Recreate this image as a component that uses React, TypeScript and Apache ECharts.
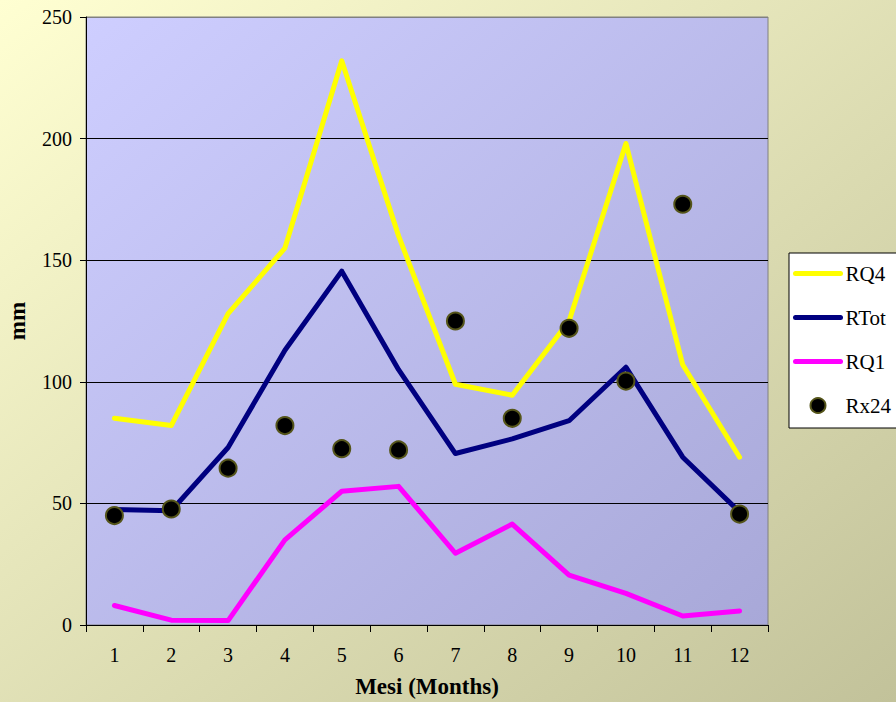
import React, { useEffect, useRef } from "react";
import * as echarts from "echarts";

const months = ["1", "2", "3", "4", "5", "6", "7", "8", "9", "10", "11", "12"];
const rq4 = [85, 82, 128, 155, 232, 160, 99, 94.5, 125, 198, 107, 69];
const rtot = [47.5, 47, 73, 113, 145.5, 105, 70.5, 76.5, 84, 106, 69, 46.5];
const rq1 = [8, 2, 1.8, 35, 55, 57, 29.5, 41.5, 20.5, 13, 3.7, 5.8];
const rx24 = [45, 47.7, 64.5, 82, 72.5, 72, 125, 85, 122, 100.3, 173, 45.6];

const FONT = "Liberation Serif";

export default function App() {
  const ref = useRef<HTMLDivElement>(null);
  useEffect(() => {
    const chart = echarts.init(ref.current!, null, { renderer: "svg" });
    const lineSeries = (name: string, data: number[], color: string) => ({
      name,
      type: "line",
      data,
      symbol: "none",
      lineStyle: { color, width: 5, cap: "round", join: "round" },
      itemStyle: { color },
    });
    chart.setOption({
      animation: false,
      backgroundColor: new echarts.graphic.LinearGradient(0, 0, 1, 1, [
        { offset: 0, color: "#FFFFD2" },
        { offset: 1, color: "#C2C29A" },
      ]),
      textStyle: { fontFamily: FONT },
      grid: {
        left: 86,
        right: 128,
        top: 17,
        bottom: 77,
        outerBoundsMode: "none",
        containLabel: false,
        show: true,
        borderColor: "#808080",
        borderWidth: 1,
        backgroundColor: new echarts.graphic.LinearGradient(0, 0, 1, 1, [
          { offset: 0, color: "#CECEFF" },
          { offset: 1, color: "#A8A8D8" },
        ]),
      },
      legend: {
        orient: "vertical",
        left: 789,
        top: 253,
        backgroundColor: "#FFFFFF",
        borderColor: "#000000",
        borderWidth: 1,
        borderRadius: 0,
        padding: [10, 8, 12, 4],
        itemWidth: 45,
        itemHeight: 15,
        itemGap: 23,
        lineStyle: { width: 5, cap: "round" },
        textStyle: { fontFamily: FONT, fontSize: 21, color: "#000" },
        data: [
          { name: "RQ4", itemStyle: { opacity: 0 } },
          { name: "RTot", itemStyle: { opacity: 0 } },
          { name: "RQ1", itemStyle: { opacity: 0 } },
          { name: "Rx24" },
        ],
      },
      xAxis: {
        type: "category",
        data: months,
        boundaryGap: true,
        name: "Mesi (Months)",
        nameLocation: "middle",
        nameGap: 50,
        nameTextStyle: { fontFamily: FONT, fontSize: 23, fontWeight: "bold", color: "#000" },
        axisLine: { lineStyle: { color: "#000", width: 1 } },
        axisTick: { show: true, length: 7, lineStyle: { color: "#000" } },
        axisLabel: { fontFamily: FONT, fontSize: 20, color: "#000", margin: 20 },
      },
      yAxis: {
        type: "value",
        min: 0,
        max: 250,
        interval: 50,
        name: "mm",
        nameLocation: "middle",
        nameGap: 57,
        nameTextStyle: { fontFamily: FONT, fontSize: 23, fontWeight: "bold", color: "#000" },
        axisLine: { show: true, lineStyle: { color: "#000", width: 1 } },
        axisTick: { show: true, length: 6, lineStyle: { color: "#000" } },
        axisLabel: { fontFamily: FONT, fontSize: 20, color: "#000", margin: 14 },
        splitLine: {
          show: true,
          lineStyle: { color: ["#000", "#000", "#000", "#000", "#000", "#808080"], width: 1 },
        },
      },
      series: [
        lineSeries("RQ4", rq4, "#FFFF00"),
        lineSeries("RTot", rtot, "#000080"),
        lineSeries("RQ1", rq1, "#FF00FF"),
        {
          name: "Rx24",
          type: "scatter",
          data: rx24,
          symbol: "circle",
          symbolSize: 17,
          itemStyle: { color: "#000000", borderColor: "#55551A", borderWidth: 2, opacity: 1 },
          z: 5,
        },
      ],
    });
    return () => chart.dispose();
  }, []);
  return (
    <div
      ref={ref}
      style={{ position: "fixed", left: 0, top: 0, width: 896, height: 702 }}
    />
  );
}
